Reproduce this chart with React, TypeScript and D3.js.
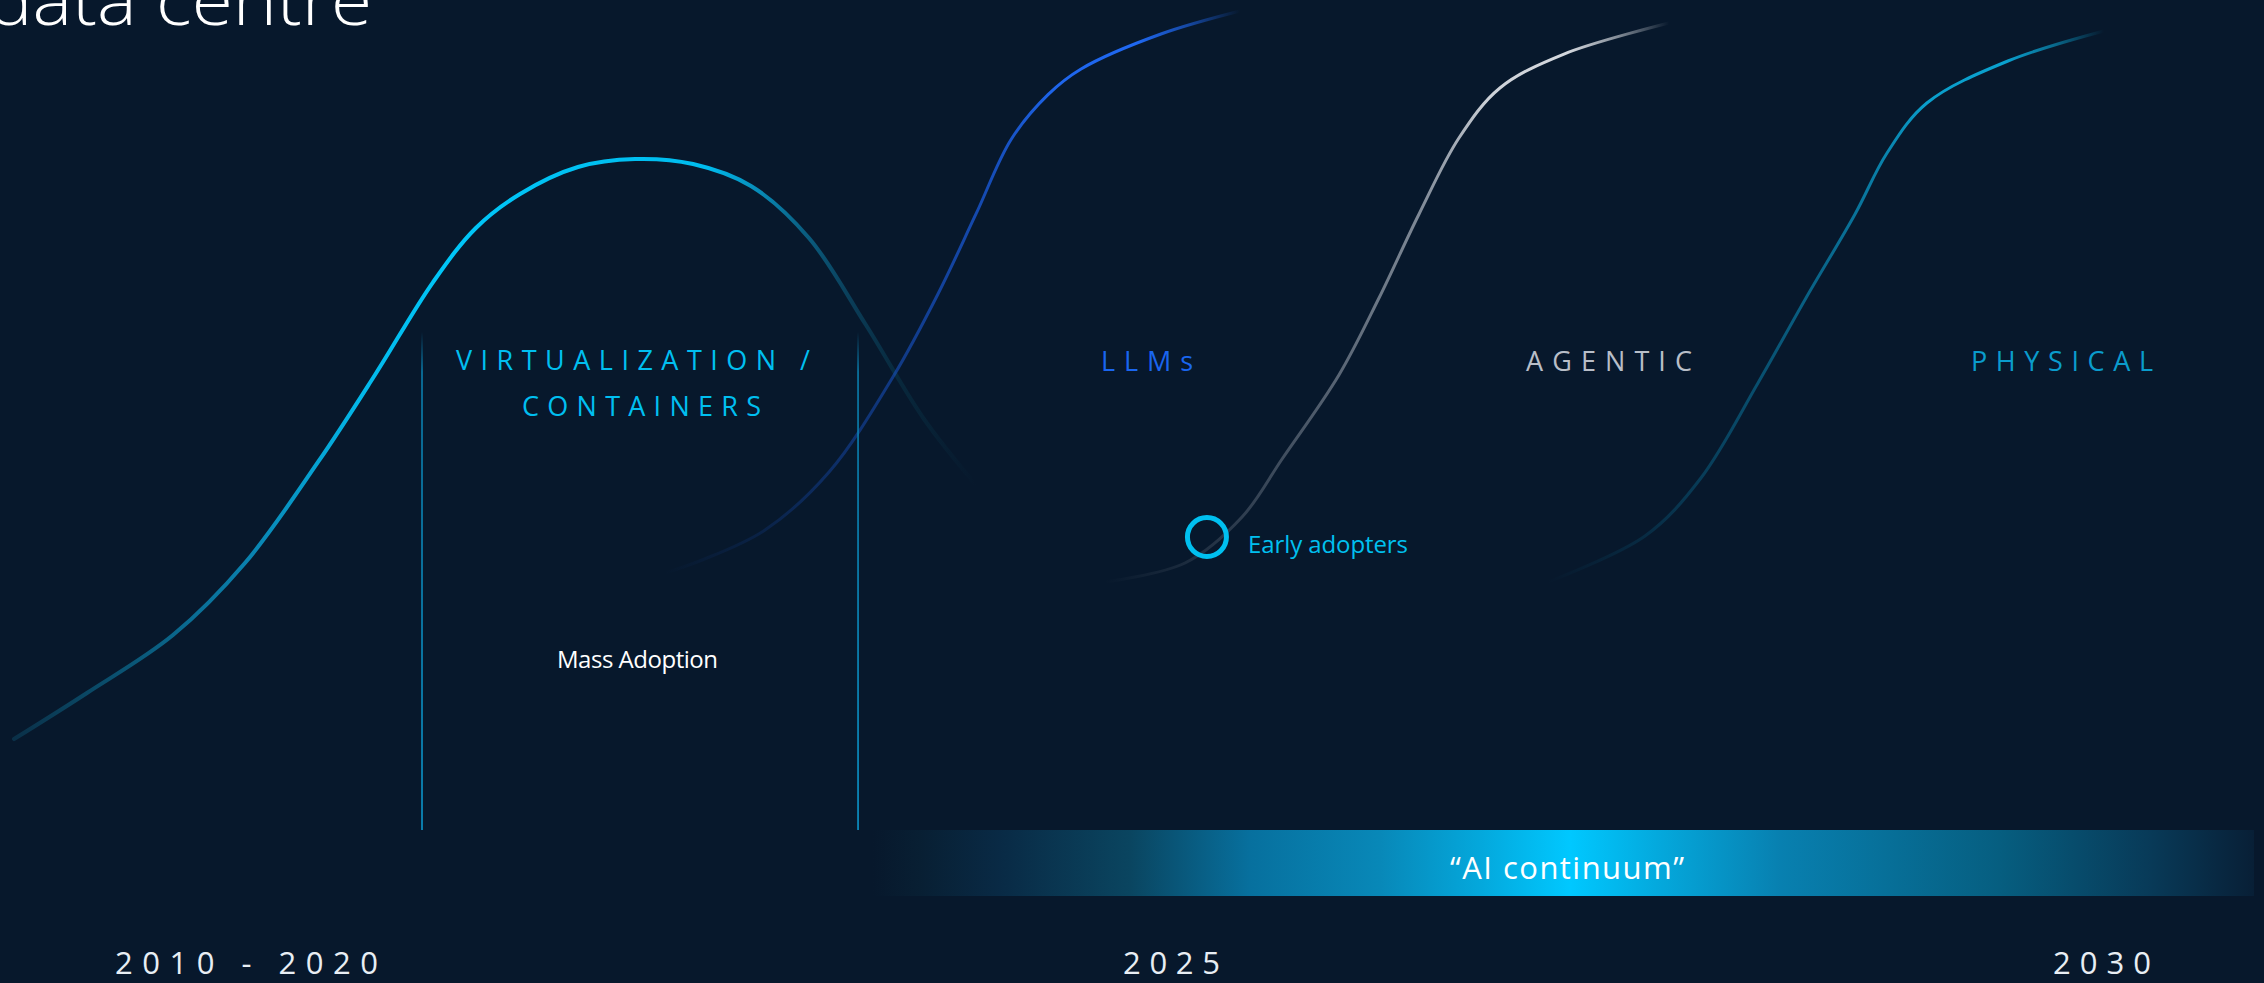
import React from "react";
import * as d3 from "d3";

// ---------- data (x: timeline 0-100, y: adoption 0-100) ----------
const virtualizationX = [0.62, 3.84, 7.64, 10.82, 14.05, 16.56, 19.13, 21.02, 22.97, 25.53, 28.05, 30.61, 33.17, 35.73, 38.25, 40.81, 43.11];
const virtualizationY = [10.96, 16.51, 23.49, 32.17, 44.34, 54.82, 66.02, 72.53, 76.63, 79.88, 80.84, 80.24, 77.59, 71.33, 60.84, 49.52, 41.57];

const llmX = [29.37, 31.01, 33.79, 36.62, 39.44, 41.43, 43.11, 44.66, 46.29, 47.75, 51.28, 54.77];
const llmY = [30.96, 32.53, 36.14, 43.13, 54.58, 64.58, 74.22, 83.2, 88.6, 91.69, 95.9, 98.67];

const agenticX = [48.81, 52.34, 54.86, 56.63, 59.14, 60.91, 62.68, 64.44, 66.25, 69.08, 73.72];
const agenticY = [29.88, 32.17, 37.71, 44.7, 54.82, 64.1, 74.22, 83.37, 89.4, 93.49, 97.23];

const physicalX = [68.37, 72.66, 75.13, 77.65, 79.77, 81.94, 83.35, 85.11, 88.69, 92.93];
const physicalY = [29.88, 35.42, 42.41, 53.86, 64.1, 74.22, 81.57, 87.59, 92.65, 96.27];

const stageLabels = ["VIRTUALIZATION /", "CONTAINERS", "LLMs", "AGENTIC", "PHYSICAL"];
const yearLabels = ["2010 - 2020", "2025", "2030"];
const phaseDividerX = [18.64, 37.9];
const earlyAdopterPoint = [53.31, 35.3];
const titleText = "data centre";
const bandText = "\u201CAI continuum\u201D";
const massAdoptionText = "Mass Adoption";
const earlyAdoptersText = "Early adopters";

// ---------- layout ----------
const W = 2264;
const H = 983;
const BG = "#07182c";
const FONT = "'Open Sans', 'Noto Sans', 'DejaVu Sans', sans-serif";

const x = d3.scaleLinear().domain([0, 100]).range([0, W]);
const y = d3.scaleLinear().domain([0, 100]).range([830, 0]);

const line = d3
  .line<[number, number]>()
  .x((d) => x(d[0]))
  .y((d) => y(d[1]))
  .curve(d3.curveCatmullRom.alpha(0.5));

const zip = (a: number[], b: number[]) => a.map((v, i) => [v, b[i]] as [number, number]);

type Stop = [number, string, number];

const virtStops: Stop[] = [
  [0, "#0a3048", 1],
  [0.12, "#0a5575", 1],
  [0.24, "#0a80ad", 1],
  [0.36, "#03b8ea", 1],
  [0.45, "#00c6f8", 1],
  [0.72, "#00bcee", 1],
  [0.77, "#078fbc", 1],
  [0.82, "#0a5f82", 1],
  [0.87, "#0a3d58", 1],
  [0.92, "#08283c", 1],
  [1, "#07182c", 1],
];

const sStops = (c: string, top: string): Stop[] => [
  [0, c, 0],
  [0.17, c, 0.15],
  [0.28, c, 0.3],
  [0.41, c, 0.5],
  [0.56, c, 0.75],
  [0.68, top, 0.97],
  [0.82, top, 1],
  [0.91, top, 0.6],
  [1, top, 0],
];

const curves = [
  { id: "g-virt", xs: virtualizationX, ys: virtualizationY, stops: virtStops, width: 4 },
  { id: "g-llm", xs: llmX, ys: llmY, stops: sStops("#1a5ce0", "#1f68f2"), width: 3 },
  { id: "g-agentic", xs: agenticX, ys: agenticY, stops: sStops("#a8b0bb", "#d4d8de"), width: 3 },
  { id: "g-physical", xs: physicalX, ys: physicalY, stops: sStops("#0a92c0", "#0aa2d0"), width: 3 },
];

const bandStops: [number, string][] = [
  [0, "#07182c"],
  [0.034, "#081f33"],
  [0.092, "#092a45"],
  [0.186, "#0a4560"],
  [0.273, "#07709e"],
  [0.367, "#0888b8"],
  [0.44, "#04a8dc"],
  [0.505, "#00c8ff"],
  [0.57, "#04a8dc"],
  [0.657, "#0880b0"],
  [0.816, "#065e80"],
  [0.925, "#083a58"],
  [1, "#081f36"],
];

type Lbl = { text: string; x: number; y: number; len: number; size: number; color: string; weight?: number; adj?: string };

const labels: Lbl[] = [
  { text: stageLabels[0], x: 456, y: 370, len: 354, size: 27, color: "#00bff0" },
  { text: stageLabels[1], x: 522, y: 416, len: 239, size: 27, color: "#00bff0" },
  { text: stageLabels[2], x: 1101, y: 371, len: 92, size: 27, color: "#1a66f0" },
  { text: stageLabels[3], x: 1526, y: 371, len: 166, size: 27, color: "#b8bec8" },
  { text: stageLabels[4], x: 1971, y: 371, len: 182, size: 27, color: "#0a9ccc" },
  { text: earlyAdoptersText, x: 1248, y: 553, len: 160, size: 24, color: "#00c0f0" },
  { text: massAdoptionText, x: 557, y: 668, len: 161, size: 24, color: "#ffffff" },
  { text: bandText, x: 1450, y: 879, len: 234, size: 31, color: "#ffffff" },
  { text: yearLabels[0], x: 115, y: 974, len: 263, size: 31, color: "#e8eef4" },
  { text: yearLabels[1], x: 1123, y: 974, len: 97, size: 31, color: "#e8eef4" },
  { text: yearLabels[2], x: 2053, y: 974, len: 98, size: 31, color: "#e8eef4" },
  { text: titleText, x: -12, y: 25, len: 384, size: 70, color: "#ffffff", weight: 300, adj: "spacingAndGlyphs" },
];

export default function App() {
  const bandX0 = 873;
  const bandX1 = 2254;
  return (
    <div style={{ position: "absolute", left: 0, top: 0, width: W, height: H, overflow: "hidden" }}>
      <svg width={W} height={H} viewBox={`0 0 ${W} ${H}`} style={{ display: "block" }}>
        <defs>
          {curves.map((c) => (
            <linearGradient
              key={c.id}
              id={c.id}
              gradientUnits="userSpaceOnUse"
              x1={x(c.xs[0])}
              x2={x(c.xs[c.xs.length - 1])}
              y1={0}
              y2={0}
            >
              {c.stops.map((s, i) => (
                <stop key={i} offset={s[0]} stopColor={s[1]} stopOpacity={s[2]} />
              ))}
            </linearGradient>
          ))}
          <linearGradient id="band" gradientUnits="userSpaceOnUse" x1={bandX0} x2={bandX1} y1={0} y2={0}>
            {bandStops.map((s, i) => (
              <stop key={i} offset={s[0]} stopColor={s[1]} />
            ))}
          </linearGradient>
          <linearGradient id="divider" gradientUnits="userSpaceOnUse" x1={0} x2={0} y1={y(60)} y2={y(0)}>
            <stop offset={0} stopColor="#0a86b8" stopOpacity={0} />
            <stop offset={0.08} stopColor="#0a86b8" stopOpacity={0.8} />
            <stop offset={1} stopColor="#0a86b8" stopOpacity={1} />
          </linearGradient>
        </defs>
        <rect x={0} y={0} width={W} height={H} fill={BG} />

        {curves.map((c) => (
          <path
            key={c.id}
            d={line(zip(c.xs, c.ys)) || ""}
            fill="none"
            stroke={`url(#${c.id})`}
            strokeWidth={c.width}
            strokeLinecap="round"
          />
        ))}

        {phaseDividerX.map((d, i) => (
          <rect key={i} x={x(d) - 0.9} y={y(60)} width={1.8} height={y(0) - y(60)} fill="url(#divider)" />
        ))}

        <rect x={bandX0} y={830} width={bandX1 - bandX0} height={66} fill="url(#band)" />

        <circle
          cx={x(earlyAdopterPoint[0])}
          cy={y(earlyAdopterPoint[1])}
          r={19.5}
          fill="none"
          stroke="#00c0f0"
          strokeWidth={5}
        />

        {labels.map((l, i) => (
          <text
            key={i}
            x={l.x}
            y={l.y}
            fill={l.color}
            fontFamily={FONT}
            fontSize={l.size}
            fontWeight={l.weight ?? 400}
            textLength={l.len}
            lengthAdjust={l.adj ?? "spacing"}
          >
            {l.text}
          </text>
        ))}
      </svg>
    </div>
  );
}
